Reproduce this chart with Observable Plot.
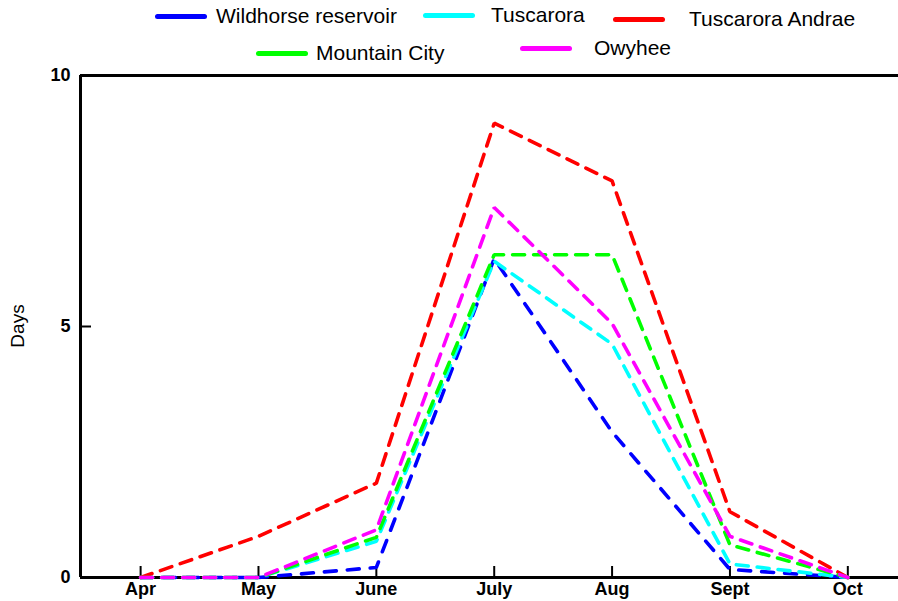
<!DOCTYPE html>
<html><head><meta charset="utf-8">
<script src="https://cdn.jsdelivr.net/npm/d3@7"></script>
<script src="https://cdn.jsdelivr.net/npm/@observablehq/plot@0.6"></script>
<style>
body{margin:0;background:#fff;}
#wrap{position:relative;width:898px;height:601px;overflow:hidden;font-family:"Liberation Sans",Arial,sans-serif;}
#wrap svg{position:absolute;left:0;top:0;}
.leg{position:absolute;display:flex;align-items:center;white-space:nowrap;font-size:21px;color:#000;}
.sw{height:5px;border-radius:3px;width:52px;}
#ylab{position:absolute;left:18px;top:326px;transform:translate(-50%,-50%) rotate(-90deg);font-size:19px;}
</style></head><body><div id="wrap"></div>
<script>
const months = ["Apr","May","June","July","Aug","Sept","Oct"];
const seriesNames = ["Wildhorse reservoir","Tuscarora","Tuscarora Andrae","Mountain City","Owyhee"];
const seriesColors = ["#0000ff","#00ffff","#ff0000","#00ff00","#ff00ff"];
const wildhorse = [0,0,0.2,6.35,2.9,0.16,0];
const tuscarora = [0,0,0.72,6.3,4.65,0.27,0];
const tuscaroraAndrae = [0,0.82,1.88,9.05,7.9,1.31,0];
const mountainCity = [0,0,0.8,6.43,6.43,0.65,0];
const owyhee = [0,0,0.95,7.37,5.06,0.82,0];
const yTicks = [0,5,10];
const yLabel = "Days";

const allSeries = [wildhorse, tuscarora, tuscaroraAndrae, mountainCity, owyhee];
const data = [];
allSeries.forEach((vals, s) => vals.forEach((v, i) => data.push({series: seriesNames[s], m: i, v})));

const xDomain = [-0.51, 6.43];
const plot = Plot.plot({
  width: 898, height: 601,
  marginLeft: 80, marginRight: 0, marginTop: 75, marginBottom: 24,
  style: {fontFamily: "Liberation Sans, Arial, sans-serif", background: "transparent"},
  x: {domain: xDomain, axis: null},
  y: {domain: [0, 10], axis: null},
  marks: [
    Plot.ruleY([0, 10], {stroke: "#000", strokeWidth: 3}),
    Plot.ruleX([xDomain[0]], {stroke: "#000", strokeWidth: 3}),
    Plot.axisX({ticks: months.map((d, i) => i), tickFormat: i => months[i], tickSize: -11, tickPadding: 16, stroke: "#000", strokeWidth: 2, fontSize: 18, fontWeight: "bold", label: null, anchor: "bottom"}),
    Plot.axisY({ticks: yTicks, tickSize: -11, tickPadding: 21, fontSize: 18, fontWeight: "bold", label: null, anchor: "left", strokeWidth: 2}),
    ...seriesNames.map((name, s) => Plot.line(data.filter(d => d.series === name), {
      x: "m", y: "v", stroke: seriesColors[s], strokeWidth: 3.6,
      strokeDasharray: s === 0 ? "12,11" : "12,9", strokeLinejoin: "miter"
    }))
  ]
});
const wrap = document.getElementById("wrap");
wrap.appendChild(plot);

const legendPos = [[155,4],[423,3],[613,7],[256,41],[520,36]];
const legendGap = [9,16,24,8,22];
seriesNames.forEach((name, s) => {
  const el = document.createElement("div");
  el.className = "leg";
  el.style.left = legendPos[s][0] + "px";
  el.style.top = legendPos[s][1] + "px";
  const sw = document.createElement("div");
  sw.className = "sw";
  sw.style.background = seriesColors[s];
  sw.style.marginRight = legendGap[s] + "px";
  const t = document.createElement("span");
  t.textContent = name;
  el.appendChild(sw); el.appendChild(t);
  wrap.appendChild(el);
});
const yl = document.createElement("div");
yl.id = "ylab"; yl.textContent = yLabel;
wrap.appendChild(yl);
</script></body></html>
